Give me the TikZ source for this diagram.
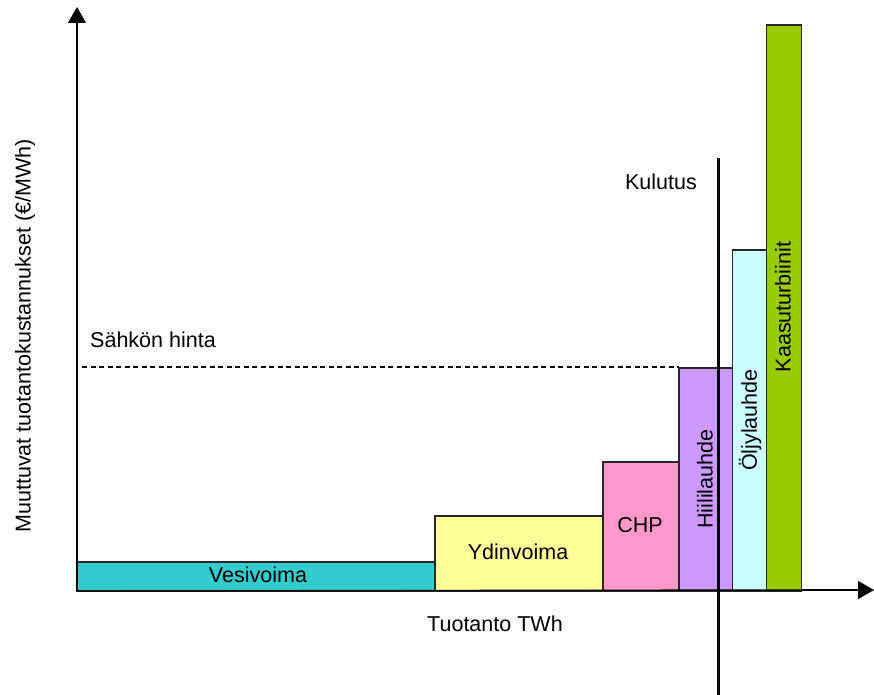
\documentclass[tikz,border=0pt]{standalone}
\usepackage{fontspec}
\setmainfont{Liberation Sans}
\usetikzlibrary{arrows.meta}
\definecolor{cVesi}{HTML}{33CCCC}
\definecolor{cYdin}{HTML}{FFFF99}
\definecolor{cCHP}{HTML}{FF99CC}
\definecolor{cHiili}{HTML}{CC99FF}
\definecolor{cOljy}{HTML}{CCFFFF}
\definecolor{cKaasu}{HTML}{99CC00}
\tikzset{
  bar/.style={draw=black!85, line width=1.3bp},
  lbl/.style={font=\fontsize{21.6}{25}\selectfont, inner sep=0pt, anchor=center},
  axisline/.style={line width=1.4bp, -{Triangle[width=18bp,length=16bp]}},
}
\begin{document}
\begin{tikzpicture}[x=1bp,y=-1bp]
\useasboundingbox (0,0) rectangle (874,695);
% bars
\draw[bar, fill=cVesi] (77,562) rectangle (435,591);
\draw[bar, fill=cYdin] (435,516) rectangle (603,591);
\draw[bar, fill=cCHP] (603,462) rectangle (679,591);
\draw[bar, fill=cHiili] (679,368) rectangle (732.5,591);
\draw[bar, fill=cOljy] (732.5,250) rectangle (766.5,591);
\draw[bar, fill=cKaasu] (766.5,25) rectangle (801.5,591);
% coordinates
\coordinate (o) at (77,591);
\coordinate (ytop) at (77,7);
\coordinate (xo) at (801.5,590);
\coordinate (xend) at (874,590);
\coordinate (d1) at (82,367);
\coordinate (d2) at (679,367);
\coordinate (k1) at (718,158);
\coordinate (k2) at (718,695);
% axes
\draw[axisline] (o) -- (ytop);
\draw[line width=1.4bp] (o) -- (xo);
\draw[axisline] (xo) -- (xend);
\draw[line width=1.3bp, dash pattern=on 5bp off 3.5bp] (d1) -- (d2);
\draw[line width=3bp] (k1) -- (k2);
% labels
\node[lbl] (vesi) at (258,575) {Vesivoima};
\node[lbl] (ydin) at (518,552) {Ydinvoima};
\node[lbl] (chp) at (640,525) {CHP};
\node[lbl, rotate=90] (hiili) at (705,479) {Hiililauhde};
\node[lbl, rotate=90] (oljy) at (750,420) {Öljylauhde};
\node[lbl, rotate=90] (kaasu) at (783,307) {Kaasuturbiinit};
\node[lbl] (kulutus) at (661,182) {Kulutus};
\node[lbl, anchor=west] (hinta) at (90,340) {Sähkön hinta};
\node[lbl] (tuot) at (495,624) {Tuotanto TWh};
\node[lbl, rotate=90] (ylab) at (25,336) {Muuttuvat tuotantokustannukset (€/MWh)};
\end{tikzpicture}
\end{document}
